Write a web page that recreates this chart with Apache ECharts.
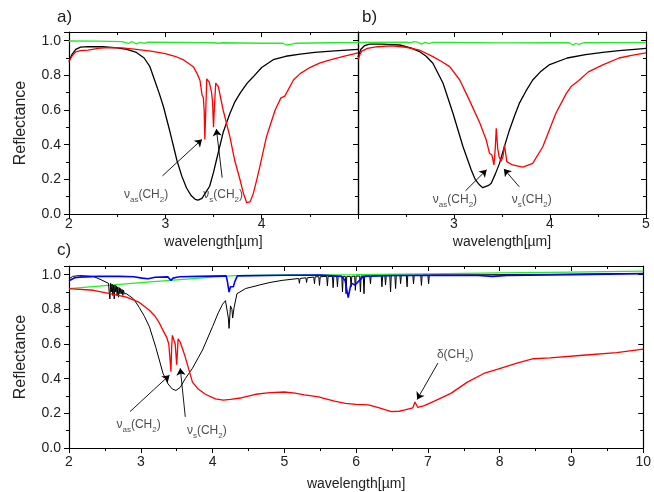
<!DOCTYPE html>
<html>
<head>
<meta charset="utf-8">
<script src="https://cdn.jsdelivr.net/npm/echarts@6/dist/echarts.min.js"></script>
<style>html,body{margin:0;padding:0;background:#fff}#chart{width:654px;height:492px}</style>
</head>
<body>
<div id="chart"></div>
<script>
// panel a) spectra [wavelength, reflectance]
var aGreen = [[2.0,0.998],[2.3,0.997],[2.55,0.995],[2.58,0.99],[2.6,0.998],[2.62,0.984],[2.65,0.995],[2.7,0.982],[2.74,0.99],[2.78,0.984],[2.82,0.992],[3.2,0.99],[3.5,0.988],[3.55,0.985],[3.6,0.988],[4.0,0.985],[4.22,0.985],[4.26,0.975],[4.3,0.978],[4.35,0.985],[4.7,0.988],[5.0,0.99]];
var aBlack = [[2.0,0.88],[2.03,0.92],[2.07,0.95],[2.12,0.963],[2.2,0.966],[2.35,0.965],[2.5,0.958],[2.6,0.95],[2.7,0.932],[2.78,0.9],[2.84,0.85],[2.89,0.77],[2.94,0.69],[2.98,0.62],[3.05,0.47],[3.12,0.31],[3.17,0.22],[3.22,0.15],[3.27,0.105],[3.31,0.085],[3.34,0.08],[3.38,0.09],[3.42,0.125],[3.46,0.16],[3.5,0.24],[3.53,0.31],[3.6,0.47],[3.67,0.58],[3.72,0.645],[3.78,0.7],[3.85,0.755],[3.91,0.79],[4.0,0.845],[4.12,0.89],[4.25,0.91],[4.4,0.922],[4.55,0.932],[4.72,0.94],[5.0,0.95]];
var aRed = [[2.0,0.88],[2.03,0.91],[2.07,0.935],[2.12,0.942],[2.2,0.945],[2.3,0.955],[2.4,0.96],[2.55,0.958],[2.7,0.95],[2.85,0.94],[3.0,0.925],[3.1,0.91],[3.19,0.889],[3.25,0.865],[3.29,0.85],[3.33,0.81],[3.36,0.77],[3.38,0.69],[3.395,0.67],[3.403,0.6],[3.41,0.43],[3.42,0.6],[3.43,0.78],[3.457,0.76],[3.48,0.7],[3.49,0.65],[3.5,0.5],[3.51,0.62],[3.523,0.755],[3.55,0.735],[3.6,0.6],[3.67,0.446],[3.72,0.31],[3.776,0.196],[3.81,0.12],[3.845,0.065],[3.86,0.063],[3.88,0.07],[3.914,0.12],[3.95,0.2],[3.98,0.27],[4.05,0.446],[4.14,0.6],[4.2,0.67],[4.24,0.68],[4.26,0.7],[4.33,0.773],[4.4,0.81],[4.5,0.845],[4.6,0.87],[4.72,0.89],[4.85,0.91],[5.0,0.93]];

// panel b)
var bGreen = [[2.0,0.99],[2.5,0.992],[2.55,0.988],[2.58,0.995],[2.6,0.985],[2.62,0.992],[2.66,0.98],[2.7,0.99],[2.74,0.983],[2.78,0.99],[3.0,0.99],[3.5,0.987],[4.0,0.988],[4.2,0.988],[4.24,0.975],[4.27,0.985],[4.3,0.978],[4.35,0.988],[5.0,0.99]];
var bBlack = [[2.0,0.905],[2.03,0.95],[2.07,0.972],[2.12,0.98],[2.25,0.98],[2.436,0.975],[2.55,0.958],[2.64,0.937],[2.71,0.91],[2.78,0.87],[2.886,0.754],[2.99,0.58],[3.094,0.388],[3.18,0.254],[3.22,0.2],[3.267,0.167],[3.3,0.152],[3.32,0.154],[3.36,0.165],[3.388,0.177],[3.43,0.23],[3.474,0.292],[3.52,0.38],[3.578,0.485],[3.63,0.565],[3.68,0.638],[3.75,0.71],[3.82,0.773],[3.9,0.82],[3.99,0.86],[4.18,0.9],[4.37,0.92],[4.55,0.932],[4.72,0.942],[4.85,0.948],[5.0,0.955]];
var bRed = [[2.0,0.89],[2.02,0.92],[2.04,0.94],[2.1,0.955],[2.2,0.965],[2.35,0.97],[2.5,0.962],[2.64,0.946],[2.78,0.908],[2.87,0.88],[2.955,0.85],[3.06,0.773],[3.16,0.657],[3.27,0.523],[3.336,0.427],[3.37,0.35],[3.395,0.34],[3.416,0.283],[3.43,0.38],[3.44,0.494],[3.455,0.38],[3.47,0.33],[3.49,0.305],[3.51,0.33],[3.526,0.398],[3.55,0.302],[3.61,0.283],[3.717,0.27],[3.82,0.292],[3.925,0.388],[4.06,0.58],[4.17,0.696],[4.22,0.735],[4.24,0.745],[4.3,0.77],[4.4,0.82],[4.55,0.86],[4.72,0.9],[4.85,0.915],[5.0,0.93]];

// panel c)
var cGreen = [[2.0,0.92],[2.5,0.937],[3.0,0.954],[3.5,0.97],[4.0,0.986],[4.3,0.995],[5.0,0.998],[6.0,1.0],[7.0,1.005],[8.0,1.01],[9.0,1.015],[10.0,1.02]];
var cBlue = [[2.0,0.965],[2.08,0.982],[2.15,0.986],[2.4,0.99],[2.7,0.99],[2.9,0.988],[3.02,0.98],[3.1,0.976],[3.2,0.985],[3.38,0.987],[3.42,0.967],[3.45,0.98],[3.5,0.985],[3.52,0.975],[3.55,0.988],[3.8,0.99],[4.19,0.993],[4.207,0.96],[4.23,0.9],[4.25,0.93],[4.27,0.94],[4.29,0.93],[4.31,0.96],[4.345,0.993],[5.0,0.997],[5.5,0.998],[5.8,0.99],[5.846,0.967],[5.89,0.868],[5.92,0.93],[5.94,0.95],[5.96,0.945],[5.985,0.94],[6.03,0.96],[6.1,0.99],[6.5,0.995],[7.0,0.997],[7.7,0.995],[7.9,0.99],[8.1,0.996],[9.0,1.0],[10.0,1.005]];
var cBlack = [[2.0,0.975],[2.05,0.99],[2.15,0.995],[2.34,0.99],[2.45,0.97],[2.55,0.95],[2.56,0.9],[2.57,0.86],[2.58,0.95],[2.59,0.9],[2.6,0.945],[2.61,0.88],[2.62,0.94],[2.63,0.86],[2.64,0.94],[2.65,0.9],[2.66,0.935],[2.67,0.88],[2.68,0.93],[2.69,0.87],[2.7,0.925],[2.71,0.89],[2.72,0.92],[2.73,0.89],[2.74,0.915],[2.75,0.88],[2.76,0.91],[2.77,0.89],[2.8,0.89],[2.9,0.86],[2.98,0.81],[3.05,0.76],[3.12,0.7],[3.21,0.58],[3.31,0.43],[3.38,0.37],[3.44,0.34],[3.49,0.332],[3.55,0.35],[3.62,0.4],[3.72,0.46],[3.8,0.52],[3.86,0.565],[4.0,0.7],[4.08,0.78],[4.14,0.83],[4.18,0.85],[4.2,0.84],[4.22,0.75],[4.23,0.69],[4.25,0.82],[4.27,0.8],[4.28,0.75],[4.3,0.81],[4.34,0.89],[4.46,0.92],[4.65,0.94],[4.8,0.955],[4.97,0.967],[5.2,0.978],[5.21,0.95],[5.22,0.978],[5.3,0.982],[5.31,0.955],[5.32,0.982],[5.41,0.986],[5.42,0.948],[5.43,0.988],[5.48,0.988],[5.49,0.938],[5.5,0.988],[5.59,0.99],[5.6,0.935],[5.61,0.99],[5.67,0.99],[5.68,0.925],[5.69,0.99],[5.73,0.99],[5.74,0.93],[5.75,0.99],[5.8,0.99],[5.81,0.9],[5.82,0.99],[5.85,0.99],[5.86,0.89],[5.87,0.99],[5.92,0.99],[5.93,0.93],[5.94,0.99],[5.98,0.992],[5.99,0.91],[6.0,0.992],[6.05,0.992],[6.06,0.9],[6.07,0.992],[6.1,0.992],[6.11,0.89],[6.12,0.992],[6.19,0.993],[6.2,0.948],[6.21,0.993],[6.35,0.994],[6.36,0.93],[6.37,0.994],[6.4,0.994],[6.41,0.94],[6.42,0.994],[6.47,0.994],[6.48,0.9],[6.49,0.994],[6.54,0.995],[6.55,0.92],[6.56,0.995],[6.61,0.995],[6.62,0.948],[6.63,0.995],[6.7,0.995],[6.71,0.93],[6.72,0.995],[6.79,0.996],[6.8,0.948],[6.81,0.996],[6.9,0.996],[6.91,0.938],[6.92,0.996],[7.0,0.997],[7.01,0.948],[7.02,0.997],[7.1,0.998],[8.0,1.0],[9.0,1.003],[10.0,1.008]];
var cRed = [[2.0,0.92],[2.34,0.91],[2.57,0.89],[2.8,0.87],[2.98,0.84],[3.12,0.795],[3.2,0.76],[3.26,0.72],[3.32,0.67],[3.36,0.64],[3.39,0.6],[3.41,0.5],[3.42,0.44],[3.43,0.58],[3.44,0.65],[3.46,0.64],[3.48,0.6],[3.5,0.48],[3.51,0.55],[3.52,0.63],[3.55,0.61],[3.6,0.55],[3.63,0.51],[3.72,0.38],[3.8,0.34],[3.9,0.31],[4.04,0.283],[4.15,0.276],[4.25,0.28],[4.41,0.29],[4.6,0.31],[4.8,0.32],[5.0,0.323],[5.15,0.317],[5.28,0.306],[5.48,0.295],[5.55,0.287],[5.7,0.27],[5.85,0.258],[6.0,0.252],[6.17,0.249],[6.3,0.235],[6.49,0.21],[6.6,0.212],[6.68,0.22],[6.79,0.232],[6.82,0.265],[6.86,0.234],[6.95,0.245],[7.09,0.27],[7.32,0.315],[7.55,0.38],[7.78,0.43],[8.01,0.46],[8.24,0.49],[8.47,0.515],[8.7,0.52],[9.16,0.535],[9.63,0.55],[10.0,0.57]];

// annotations: [x, y, subscript]  and arrows [[from],[to]]
var aNotes = [[2.80,0.11,'as'],[3.60,0.11,'s']];
var bNotes = [[3.01,0.08,'as'],[3.81,0.08,'s']];
var cNotes = [[2.97,0.134,'as'],[3.92,0.10,'s'],[7.38,0.536,'d']];
var aArrows = [[[2.97,0.22],[3.38,0.43]],[[3.59,0.21],[3.53,0.49]]];
var bArrows = [[[3.12,0.134],[3.34,0.255]],[[3.68,0.157],[3.52,0.26]]];
var cArrows = [[[2.85,0.21],[3.40,0.42]],[[3.62,0.18],[3.55,0.46]],[[7.14,0.49],[6.85,0.28]]];

var xTicks = { min: 2, interval: 1 };
var yTicks = { min: 0, max: 1.05, interval: 0.2 };

var FONT = '"Liberation Sans", Arial, sans-serif';
var GREEN = '#22ee22', RED = '#ff0000', BLACK = '#000000', BLUE = '#0000ff';

function bottomX(gi, max, margin, nameGap, showMin, showMax) {
  return {
    type: 'value', gridIndex: gi, position: 'bottom', min: xTicks.min, max: max, interval: xTicks.interval,
    name: 'wavelength[µm]', nameLocation: 'middle', nameGap: nameGap,
    nameTextStyle: { fontFamily: FONT, fontSize: 14, color: '#222' },
    axisLine: { onZero: false, lineStyle: { color: '#000', width: 1.2 } },
    axisTick: { length: 5, lineStyle: { color: '#000' } },
    minorTick: { show: true, splitNumber: 2, length: 3, lineStyle: { color: '#000' } },
    axisLabel: { fontFamily: FONT, fontSize: 14, color: '#222', margin: margin, showMinLabel: showMin, showMaxLabel: showMax },
    splitLine: { show: false }
  };
}
function topX(gi, max) {
  return {
    type: 'value', gridIndex: gi, position: 'top', min: xTicks.min, max: max, interval: xTicks.interval,
    axisLine: { onZero: false, lineStyle: { color: '#000', width: 1.2 } },
    axisTick: { inside: true, length: 5, lineStyle: { color: '#000' } },
    minorTick: { show: true, splitNumber: 2, length: 3, lineStyle: { color: '#000' } },
    axisLabel: { show: false }, splitLine: { show: false }
  };
}
function leftY(gi, labels) {
  return {
    type: 'value', gridIndex: gi, position: 'left', min: yTicks.min, max: yTicks.max, interval: yTicks.interval,
    name: labels ? 'Reflectance' : '', nameLocation: 'middle', nameGap: 40,
    nameTextStyle: { fontFamily: FONT, fontSize: 16, color: '#222' },
    axisLine: { onZero: false, lineStyle: { color: '#000', width: 1.2 } },
    axisTick: { length: 5, lineStyle: { color: '#000' } },
    minorTick: { show: true, splitNumber: 2, length: 3, lineStyle: { color: '#000' } },
    axisLabel: {
      show: labels, fontFamily: FONT, fontSize: 14, color: '#222', margin: 8,
      formatter: function (v) { return Math.abs(v * 5 - Math.round(v * 5)) < 1e-6 ? v.toFixed(1) : ''; }
    },
    splitLine: { show: false }
  };
}
function rightY(gi, ticks) {
  return {
    type: 'value', gridIndex: gi, position: 'right', min: yTicks.min, max: yTicks.max, interval: yTicks.interval,
    axisLine: { onZero: false, lineStyle: { color: '#000', width: 1.2 } },
    axisTick: { show: ticks, inside: true, length: 5, lineStyle: { color: '#000' } },
    minorTick: { show: ticks, splitNumber: 2, length: 3, lineStyle: { color: '#000' } },
    axisLabel: { show: false }, splitLine: { show: false }
  };
}

function curve(gi, data, color, width) {
  return {
    type: 'line', xAxisIndex: gi * 2, yAxisIndex: gi * 2, data: data,
    showSymbol: false, symbol: 'none', silent: true,
    lineStyle: { color: color, width: width || 1.3 }
  };
}
function notes(gi, data) {
  return {
    type: 'scatter', xAxisIndex: gi * 2, yAxisIndex: gi * 2, data: data, z: 10,
    symbolSize: 1, itemStyle: { color: 'rgba(0,0,0,0)' }, silent: true,
    label: {
      show: true, position: 'inside', color: '#222', fontFamily: FONT,
      formatter: function (p) {
        var s = p.data[2];
        if (s === 'd') return '{n|δ(CH}{s|2}{n|)}';
        return '{n|ν}{s|' + s + '}{n|(CH}{s|2}{n|)}';
      },
      rich: {
        n: { fontSize: 12, fontFamily: FONT, color: '#222', lineHeight: 18, verticalAlign: 'middle' },
        s: { fontSize: 8, fontFamily: FONT, color: '#222', lineHeight: 18, verticalAlign: 'bottom' }
      }
    }
  };
}
function arrows(gi, list) {
  return {
    type: 'lines', coordinateSystem: 'cartesian2d', xAxisIndex: gi * 2, yAxisIndex: gi * 2, z: 10,
    symbol: ['none', 'arrow'], symbolSize: 7, silent: true,
    lineStyle: { color: '#000', width: 0.9, opacity: 1 },
    data: list.map(function (c) { return { coords: c }; })
  };
}

var titleStyle = { fontFamily: FONT, fontSize: 17, fontWeight: 'normal', color: '#222' };
var option = {
  animation: false,
  backgroundColor: '#fff',
  title: [
    { text: 'a)', left: 57, top: 9, padding: 0, textStyle: titleStyle },
    { text: 'b)', left: 362, top: 9, padding: 0, textStyle: titleStyle },
    { text: 'c)', left: 57, top: 242, padding: 0, textStyle: titleStyle }
  ],
  grid: [
    { left: 69, top: 32, width: 289, height: 182 },
    { left: 358, top: 32, width: 288, height: 182 },
    { left: 69, top: 266, width: 578, height: 182 }
  ],
  xAxis: [
    bottomX(0, 5, 3, 21, true, false), topX(0, 5),
    bottomX(1, 5, 3, 21, false, true), topX(1, 5),
    bottomX(2, 10, 7, 29, true, true), topX(2, 10)
  ],
  yAxis: [
    leftY(0, true), rightY(0, false),
    leftY(1, false), rightY(1, true),
    leftY(2, true), rightY(2, true)
  ],
  series: [
    curve(0, aGreen, GREEN), curve(0, aBlack, BLACK), curve(0, aRed, RED),
    curve(1, bGreen, GREEN), curve(1, bBlack, BLACK), curve(1, bRed, RED),
    curve(2, cGreen, GREEN), curve(2, cBlack, BLACK, 1), curve(2, cBlue, BLUE, 1.6), curve(2, cRed, RED),
    notes(0, aNotes), notes(1, bNotes), notes(2, cNotes),
    arrows(0, aArrows), arrows(1, bArrows), arrows(2, cArrows)
  ]
};

var chart = echarts.init(document.getElementById('chart'));
chart.setOption(option);
</script>
</body>
</html>
